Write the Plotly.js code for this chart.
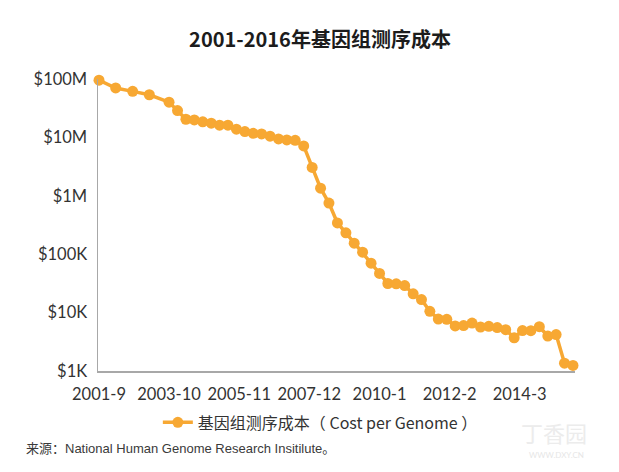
<!DOCTYPE html>
<html>
<head>
<meta charset="utf-8">
<script src="https://cdn.plot.ly/plotly-3.0.1.min.js"></script>
<style>
  html, body { margin: 0; padding: 0; background: #ffffff; }
  #chart { width: 619px; height: 472px; }
</style>
</head>
<body>
<div id="chart"></div>
<script>
// Cost of sequencing one human genome (USD), NHGRI survey dates
const dates = [
  '2001-09-01', '2002-03-01', '2002-09-01', '2003-03-01', '2003-10-01',
  '2004-01-01', '2004-04-01', '2004-07-01', '2004-10-01',
  '2005-01-01', '2005-04-01', '2005-07-01', '2005-10-01',
  '2006-01-01', '2006-04-01', '2006-07-01', '2006-10-01',
  '2007-01-01', '2007-04-01', '2007-07-01', '2007-10-01',
  '2008-01-01', '2008-04-01', '2008-07-01', '2008-10-01',
  '2009-01-01', '2009-04-01', '2009-07-01', '2009-10-01',
  '2010-01-01', '2010-04-01', '2010-07-01', '2010-10-01',
  '2011-01-01', '2011-04-01', '2011-07-01', '2011-10-01',
  '2012-01-01', '2012-04-01', '2012-07-01', '2012-10-01',
  '2013-01-01', '2013-04-01', '2013-07-01', '2013-10-01',
  '2014-01-01', '2014-04-01', '2014-07-01', '2014-10-01',
  '2015-01-01', '2015-04-01', '2015-07-01', '2015-10-01'
];

const costPerGenome = [
  95263072, 70175437, 61448422, 53751684, 40157554,
  28780376, 20442576, 19934346, 18519312,
  17534970, 16159699, 16180224, 13801124,
  12585659, 11732535, 11455315, 10474556,
  9408739, 9047003, 8927342, 7147571,
  3063820, 1352982, 752080, 342502,
  232735, 154714, 108065, 70333,
  46774, 31512, 31125, 29092,
  20963, 16712, 10497, 7743,
  7666, 5901, 5985, 6618,
  5671, 5827, 5550, 5096,
  3700, 4920, 4905, 5731,
  3970, 4211, 1363, 1245
];

const xTickDates  = ['2001-09-01', '2003-10-01', '2005-11-01', '2007-12-01', '2010-01-01', '2012-02-01', '2014-03-01'];
const xTickLabels = ['2001-9', '2003-10', '2005-11', '2007-12', '2010-1', '2012-2', '2014-3'];
const yTickValues = [1e3, 1e4, 1e5, 1e6, 1e7, 1e8];
const yTickLabels = ['$1K', '$10K', '$100K', '$1M', '$10M', '$100M'];

const seriesName = '基因组测序成本（ Cost per Genome ）';
const titleText = '2001-2016年基因组测序成本';
const sourceText = '来源：National Human Genome Research Insitilute。';

const orange = '#F7A833';
const axisGray = '#a8a8a8';
const latin = 'Lato, "Noto Sans", sans-serif';
const cjk = '"Noto Sans CJK SC", "Noto Sans", sans-serif';

const trace = {
  type: 'scatter',
  mode: 'lines+markers',
  x: dates,
  y: costPerGenome,
  name: seriesName,
  line: { color: orange, width: 3.5 },
  marker: { color: orange, size: 11 },
  cliponaxis: false,
  hoverinfo: 'x+y'
};

const layout = {
  width: 619,
  height: 472,
  paper_bgcolor: '#ffffff',
  plot_bgcolor: '#ffffff',
  margin: { l: 98, r: 44, t: 79, b: 101 },
  title: {
    text: titleText,
    font: { family: cjk, size: 20, color: '#1c1c1c', weight: 'bold' },
    xref: 'container', yref: 'container',
    x: 0.517, xanchor: 'center',
    y: 0.915, yanchor: 'middle'
  },
  xaxis: {
    type: 'date',
    range: ['2001-08-21', '2015-10-23'],
    showline: true, linecolor: axisGray, linewidth: 1.5,
    showgrid: false, zeroline: false,
    tickmode: 'array', tickvals: xTickDates, ticktext: xTickLabels,
    ticks: 'outside', ticklen: 8, tickcolor: 'rgba(0,0,0,0)',
    tickfont: { family: latin, size: 16.5, color: '#333333' },
    fixedrange: true
  },
  yaxis: {
    type: 'log',
    range: [3, 8],
    showline: true, linecolor: axisGray, linewidth: 1.5,
    showgrid: false, zeroline: false,
    tickmode: 'array', tickvals: yTickValues, ticktext: yTickLabels,
    ticks: 'outside', ticklen: 6, tickcolor: 'rgba(0,0,0,0)',
    tickfont: { family: latin, size: 16.5, color: '#333333' },
    fixedrange: true
  },
  showlegend: true,
  legend: {
    orientation: 'h',
    xref: 'container', yref: 'container',
    x: 0.255, xanchor: 'left',
    y: 0.105, yanchor: 'middle',
    font: { family: cjk, size: 16, color: '#333333' },
    bgcolor: 'rgba(0,0,0,0)'
  },
  annotations: [
    {
      text: sourceText,
      xref: 'paper', yref: 'paper',
      x: -0.155, y: -0.265,
      xanchor: 'left', yanchor: 'middle',
      showarrow: false,
      font: { family: '"Liberation Sans", "Noto Sans CJK SC", sans-serif', size: 13, color: '#3a3a3a' }
    },
    {
      text: '丁香园',
      xref: 'paper', yref: 'paper',
      x: 0.955, y: -0.21,
      xanchor: 'center', yanchor: 'middle',
      showarrow: false,
      font: { family: cjk, size: 22, color: '#ececec' }
    },
    {
      text: 'WWW.DXY.CN',
      xref: 'paper', yref: 'paper',
      x: 0.962, y: -0.288,
      xanchor: 'center', yanchor: 'middle',
      showarrow: false,
      font: { family: latin, size: 8, color: '#e6e6e6' }
    }
  ],
  hovermode: 'closest'
};

Plotly.newPlot('chart', [trace], layout, { displayModeBar: false, staticPlot: true });
</script>
</body>
</html>
